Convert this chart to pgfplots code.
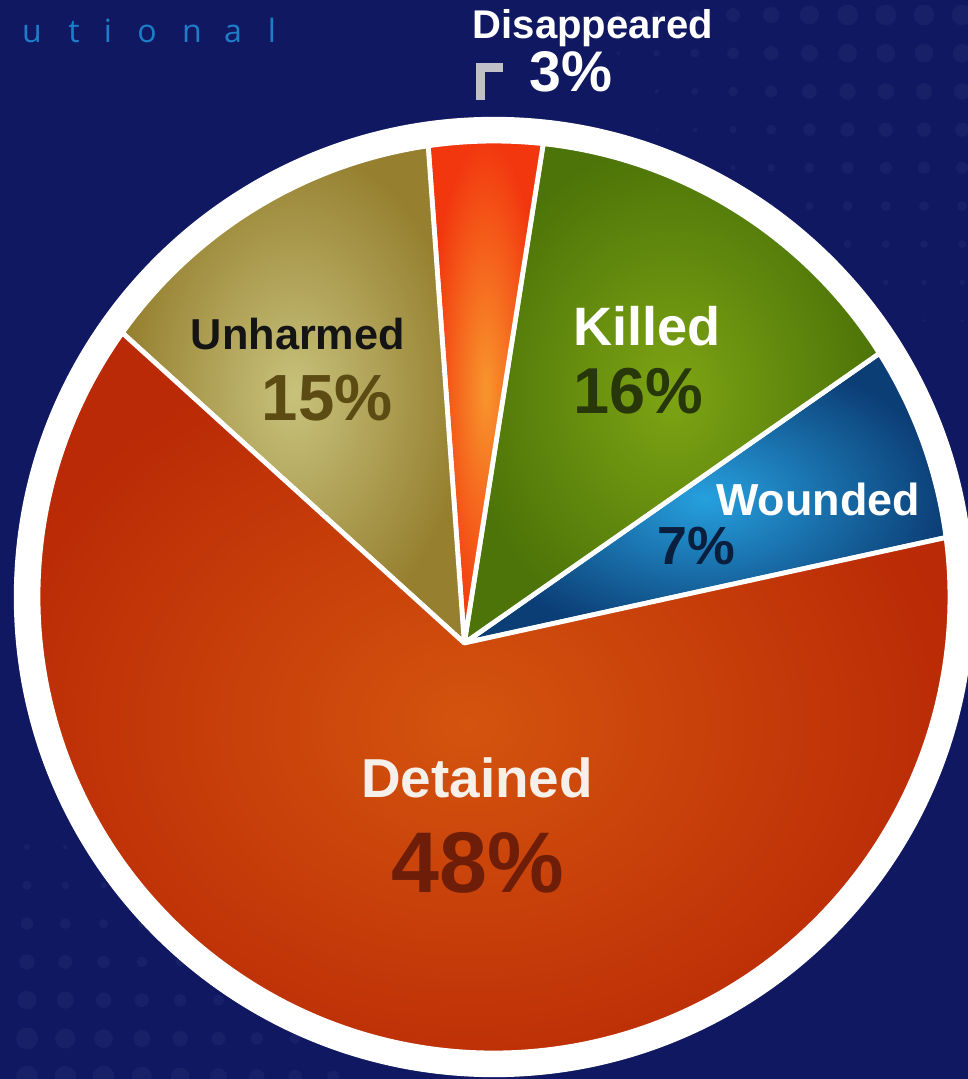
\documentclass[border=0pt]{standalone}
\usepackage{fontspec}
\setmainfont{Liberation Sans}
\newfontfamily\thinfont{Open Sans}
\usepackage{pgfplots}
\pgfplotsset{compat=1.18}
\usepackage{pgfplotstable}

\definecolor{bgnavy}{RGB}{16,24,98}
\definecolor{WoA}{RGB}{38,160,222}
\definecolor{WoB}{RGB}{12,62,118}
\definecolor{KiA}{RGB}{126,164,20}
\definecolor{KiB}{RGB}{76,116,8}
\definecolor{DiA}{RGB}{248,150,45}
\definecolor{DiB}{RGB}{242,55,14}
\definecolor{UnA}{RGB}{200,194,124}
\definecolor{UnB}{RGB}{150,128,48}
\definecolor{DeA}{RGB}{212,84,14}
\definecolor{DeB}{RGB}{186,42,6}
\definecolor{brk}{RGB}{192,192,200}
\definecolor{topblue}{RGB}{30,125,200}

% slice boundaries (degrees on the rim)
\pgfplotstableread{
slice       start  end    cin   cout
Wounded     7.5    32.3   WoA   WoB
Killed      32.3   83.8   KiA   KiB
Disappeared 83.8   98.3   DiA   DiB
Unharmed    98.3   144.6  UnA   UnB
Detained    144.6  367.5  DeA   DeB
}\slices

\begin{document}
\begin{tikzpicture}
\begin{axis}[
    hide axis,
    x=4cm, y=4cm,
    xmin=-1.08333, xmax=1.03947,
    ymin=-1.05702, ymax=1.30921,
    clip=true,
]
\pgfplotsextra{
  \fill[bgnavy] (rel axis cs:0,0) rectangle (rel axis cs:1,1);
  % halftone dots, top right
  \foreach \r in {0,...,8}{\foreach \c in {-3,...,6}{
    \pgfmathsetmacro\rad{min(10.5,7+1.3*\c)-1.1*\r}
    \ifdim\rad pt>1pt
      \fill[white, opacity=0.035] (axis cs:{(733+38.2*\c-494)/456},{(597-15-38.2*\r)/456}) circle[radius=\rad*0.2486pt];
    \fi
  }}
  % halftone dots, bottom left
  \foreach \r in {0,...,6}{\foreach \c in {0,...,8}{
    \pgfmathsetmacro\rad{min(11,3+1.6*\r-0.8*\c)}
    \ifdim\rad pt>1pt
      \fill[white, opacity=0.035] (axis cs:{(27+38.3*\c-494)/456},{(597-847-38.3*\r)/456}) circle[radius=\rad*0.2486pt];
    \fi
  }}
  % white rim
  \fill[white] (axis cs:0,0) circle[radius=1.053*4cm];
  % slices
  \pgfplotstablegetrowsof{\slices}
  \pgfmathtruncatemacro\nlast{\pgfplotsretval-1}
  \foreach \i in {0,...,\nlast}{
    \pgfplotstablegetelem{\i}{start}\of\slices\let\sa\pgfplotsretval
    \pgfplotstablegetelem{\i}{end}\of\slices\let\sb\pgfplotsretval
    \pgfplotstablegetelem{\i}{cin}\of\slices\let\ca\pgfplotsretval
    \pgfplotstablegetelem{\i}{cout}\of\slices\let\cb\pgfplotsretval
    \shadedraw[inner color=\ca, outer color=\cb, draw=white, line width=1.2pt, line join=round]
      (axis cs:-0.0651,-0.1009) -- (axis cs:{cos(\sa)},{sin(\sa)})
      arc[start angle=\sa, end angle=\sb, radius=4cm] -- cycle;
  }
  % marker by the small slice
  \draw[brk, line width=2.24pt, line join=miter]
    (axis cs:-0.0296,1.0899) -- (axis cs:-0.0296,1.1612) -- (axis cs:0.0197,1.1612);
  % labels
  \node[anchor=base, text=white, font=\bfseries\fontsize{10}{10}\selectfont] at (axis cs:0.217,1.2237) {Disappeared};
  \node[anchor=base, text=white, font=\bfseries\fontsize{14.3}{14.3}\selectfont] at (axis cs:0.169,1.1075) {3\%};
  \node[anchor=base, text=black!92, font=\bfseries\fontsize{10.8}{10.8}\selectfont] at (axis cs:-0.430,0.5417) {Unharmed};
  \node[anchor=base, text={rgb,255:red,92;green,76;blue,20}, font=\bfseries\fontsize{16.3}{16.3}\selectfont] at (axis cs:-0.366,0.388) {15\%};
  \node[anchor=base, text=white, font=\bfseries\fontsize{13.5}{13.5}\selectfont] at (axis cs:0.336,0.5526) {Killed};
  \node[anchor=base, text={rgb,255:red,40;green,55;blue,10}, font=\bfseries\fontsize{16.2}{16.2}\selectfont] at (axis cs:0.316,0.4035) {16\%};
  \node[anchor=base, text=white, font=\bfseries\fontsize{11.2}{11.2}\selectfont] at (axis cs:0.711,0.1798) {Wounded};
  \node[anchor=base, text={rgb,255:red,10;green,30;blue,62}, font=\bfseries\fontsize{13.4}{13.4}\selectfont] at (axis cs:0.443,0.0702) {7\%};
  \node[anchor=base, text={rgb,255:red,246;green,240;blue,234}, font=\bfseries\fontsize{13.7}{13.7}\selectfont] at (axis cs:-0.037,-0.4386) {Detained};
  \node[anchor=base, text={rgb,255:red,110;green,30;blue,8}, font=\bfseries\fontsize{21.5}{21.5}\selectfont] at (axis cs:-0.035,-0.649) {48\%};
  % cropped word at top left
  \foreach \ch/\px in {u/32,t/74,i/108,o/147,n/192,a/233,l/272}{
    \node[anchor=base, text=topblue, font=\thinfont\fontsize{8}{8}\selectfont, inner sep=0pt] at (axis cs:{(\px-494)/456},1.215) {\ch};
  }
}
\end{axis}
\pgfresetboundingbox
\useasboundingbox (current axis.south west) rectangle (current axis.north east);
\end{tikzpicture}
\end{document}
